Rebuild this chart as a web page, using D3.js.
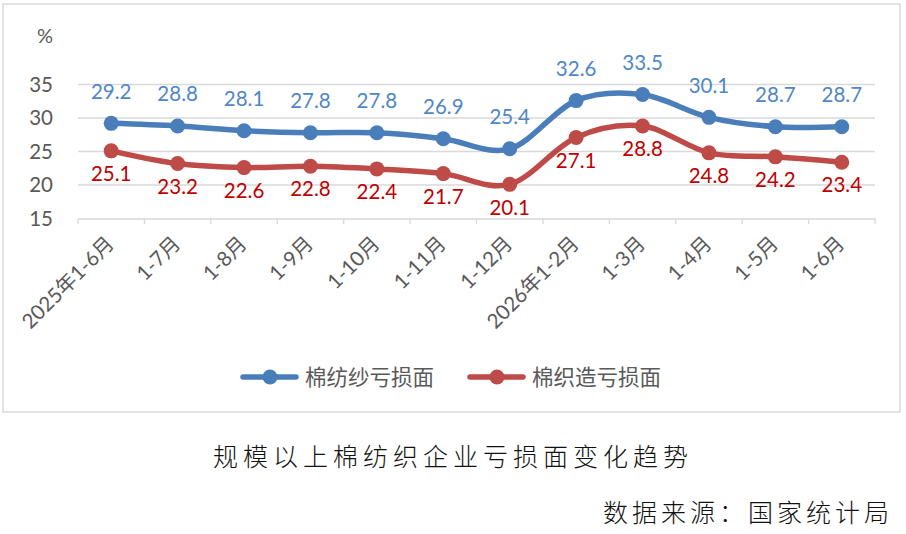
<!DOCTYPE html>
<html><head><meta charset="utf-8">
<script src="https://cdn.jsdelivr.net/npm/d3@7"></script>
<style>body{margin:0;background:#fff}svg{display:block}</style>
</head><body>
<svg id="c" width="906" height="534"></svg>
<script>
const categories = ["2025年1-6月","1-7月","1-8月","1-9月","1-10月","1-11月","1-12月","2026年1-2月","1-3月","1-4月","1-5月","1-6月"];
const yarnLoss = [29.2,28.8,28.1,27.8,27.8,26.9,25.4,32.6,33.5,30.1,28.7,28.7];
const fabricLoss = [25.1,23.2,22.6,22.8,22.4,21.7,20.1,27.1,28.8,24.8,24.2,23.4];
const yTicks = [15,20,25,30,35];
const seriesNames = ["棉纺纱亏损面","棉织造亏损面"];
const title = "规模以上棉纺织企业亏损面变化趋势";
const source = "数据来源：国家统计局";

const svg = d3.select("#c");
const latin = "Lato, 'Noto Sans CJK SC', sans-serif";
const cjk = "'Noto Sans CJK SC', sans-serif";

svg.append("rect").attr("x",3).attr("y",4).attr("width",897).attr("height",408)
  .attr("fill","#fff").attr("stroke","#d9d9d9").attr("stroke-width",1.5);

const x = d3.scaleBand().domain(categories).range([78,875]);
const y = d3.scaleLinear().domain([15,35]).range([218.5,84.5]);
const cx = d => x(d)+x.bandwidth()/2;

// gridlines
svg.append("g").selectAll("line").data(yTicks.filter(t=>t>15)).join("line")
  .attr("x1",78).attr("x2",875).attr("y1",d=>y(d)).attr("y2",d=>y(d))
  .attr("stroke","#d9d9d9").attr("stroke-width",1.3);

// y axis labels
svg.append("g").selectAll("text").data(yTicks).join("text")
  .attr("x",53).attr("y",d=>y(d)).attr("dy","0.35em").attr("text-anchor","end")
  .attr("font-family",latin).attr("font-size",20.5).attr("fill","#595959").text(d=>d);
svg.append("text").attr("x",45).attr("y",36).attr("dy","0.35em").attr("text-anchor","middle")
  .attr("font-family",latin).attr("font-size",20).attr("fill","#595959").text("%");

// x axis
const xAxis = d3.axisBottom(x).tickSize(0).tickFormat("");
const gx = svg.append("g").attr("transform","translate(0,218.5)").call(xAxis);
gx.select(".domain").attr("stroke","#d9d9d9").attr("stroke-width",1.3);
const bounds = categories.map(c=>x(c)).concat([875]);
svg.append("g").selectAll("line").data(bounds).join("line")
  .attr("x1",d=>d).attr("x2",d=>d).attr("y1",218.5).attr("y2",224)
  .attr("stroke","#d9d9d9").attr("stroke-width",1.3);
svg.append("g").selectAll("text").data(categories).join("text")
  .attr("transform",d=>`translate(${cx(d)-1},${240}) rotate(-45)`)
  .attr("text-anchor","end").attr("dy","0.35em")
  .attr("font-family",latin).attr("font-size",20.5).attr("fill","#595959").text(d=>d);

const line = d3.line().x((d,i)=>cx(categories[i])).y(d=>y(d)).curve(d3.curveCardinal.tension(0));
const series = [
  {vals:yarnLoss, color:"#4a7ebb", label:"#4f86c6", off:-32},
  {vals:fabricLoss, color:"#be4b48", label:"#c00000", off:23}
];
series.forEach(s=>{
  svg.append("path").attr("d",line(s.vals)).attr("fill","none")
    .attr("stroke",s.color).attr("stroke-width",5.5).attr("stroke-linejoin","round");
  svg.append("g").selectAll("circle").data(s.vals).join("circle")
    .attr("cx",(d,i)=>cx(categories[i])).attr("cy",d=>y(d)).attr("r",7.5).attr("fill",s.color);
  svg.append("g").selectAll("text").data(s.vals).join("text")
    .attr("x",(d,i)=>cx(categories[i])).attr("y",d=>y(d)+s.off).attr("dy","0.35em")
    .attr("text-anchor","middle").attr("font-family",latin).attr("font-size",20.5)
    .attr("fill",s.label).text(d=>d.toFixed(1));
});

// legend
const legX = [243,470];
series.forEach((s,i)=>{
  const g = svg.append("g").attr("transform",`translate(${legX[i]},377)`);
  g.append("line").attr("x1",0).attr("x2",53).attr("y1",0).attr("y2",0)
    .attr("stroke",s.color).attr("stroke-width",5.5).attr("stroke-linecap","round");
  g.append("circle").attr("cx",27).attr("cy",0).attr("r",7.5).attr("fill",s.color);
  g.append("text").attr("x",62).attr("y",0).attr("dy","0.35em")
    .attr("font-family",cjk).attr("font-size",21.5).attr("fill","#595959").text(seriesNames[i]);
});

svg.append("text").attr("x",453).attr("y",457).attr("dy","0.35em").attr("text-anchor","middle")
  .attr("font-family",cjk).attr("font-weight",300).attr("font-size",25).attr("letter-spacing",5)
  .attr("fill","#111").text(title);
svg.append("text").attr("x",893).attr("y",513).attr("dy","0.35em").attr("text-anchor","end")
  .attr("font-family",cjk).attr("font-weight",300).attr("font-size",25).attr("letter-spacing",4)
  .attr("fill","#111").text(source);
</script>
</body></html>
